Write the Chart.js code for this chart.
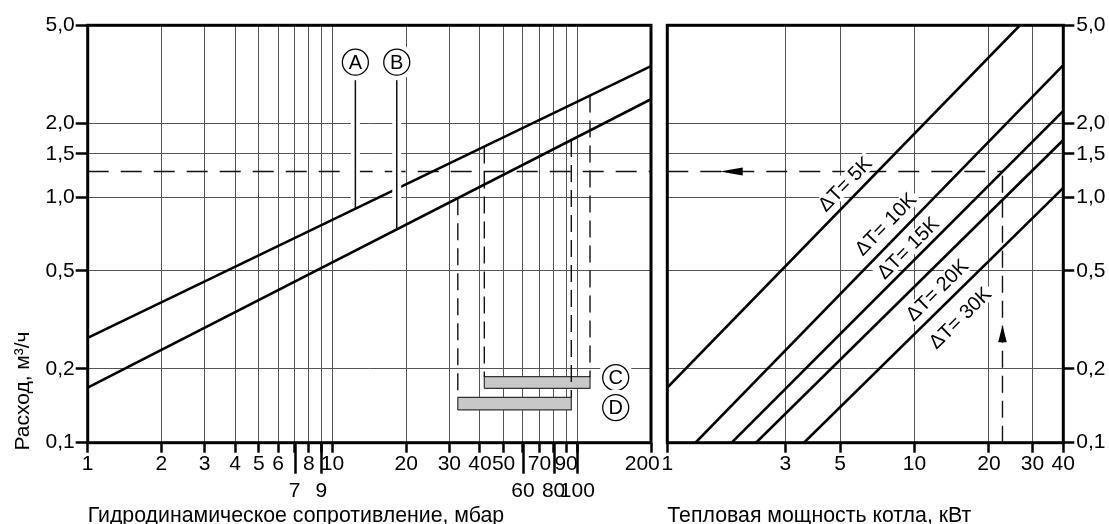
<!DOCTYPE html>
<html lang="ru">
<head>
<meta charset="utf-8">
<title>Расход</title>
<script src="https://cdn.jsdelivr.net/npm/chart.js@4.4.1/dist/chart.umd.min.js"></script>
<style>
html,body{margin:0;padding:0;background:#fff;overflow:hidden;}
#wrap{position:relative;width:1109px;height:524px;background:#fff;}
#wrap canvas{position:absolute;left:0;top:0;}
</style>
</head>
<body>
<div id="wrap">
<canvas id="leftChart" width="1109" height="524"></canvas>
<canvas id="rightChart" width="1109" height="524"></canvas>
</div>
<script>
// ---------------- data ----------------
const pressureTicks = [1,2,3,4,5,6,7,8,9,10,20,30,40,50,60,70,80,90,100,200];
const pressureLowerRowTicks = [7,9,60,80,100];
const flowTicks = [0.1,0.2,0.5,1.0,1.5,2.0,5.0];
const powerTicks = [1,3,5,10,20,30,40];

const curveA_pressure = [1,200];
const curveA_flow = [0.267,3.41];
const curveB_pressure = [1,200];
const curveB_flow = [0.1675,2.50];

const rangeC_pressure = [41.7,112.7];
const rangeC_flow = [0.1665,0.1856];
const rangeD_pressure = [32.5,94.5];
const rangeD_flow = [0.136,0.153];

const dT5K_power = [1,26.7];    const dT5K_flow = [0.1675,5.0];
const dT10K_power = [1.30,40];  const dT10K_flow = [0.1,3.44];
const dT15K_power = [1.82,40];  const dT15K_flow = [0.1,2.24];
const dT20K_power = [2.285,40]; const dT20K_flow = [0.1,1.706];
const dT30K_power = [3.57,40];  const dT30K_flow = [0.1,1.09];
const deltaTLabels = ['ΔT= 5K','ΔT= 10K','ΔT= 15K','ΔT= 20K','ΔT= 30K'];
const deltaTLabel_power = [5.23,7.63,9.41,12.33,15.28];
const deltaTLabel_flow = [1.13,0.776,0.62,0.418,0.322];

const exampleFlow = 1.27;
const examplePower = 22.7;
const arrowLeftTip_power = 1.63;
const arrowUpTip_flow = 0.301;

const markerAB_letters = ['A','B'];
const markerAB_pressure = [12.4,18.3];
const markerAB_flow = 3.54;
const markerCD_letters = ['C','D'];
const markerCD_pressure = 143.5;
const markerCD_flow = [0.184,0.139];

// ---------------- helpers ----------------
const FONT = '"Liberation Sans", Arial, Helvetica, sans-serif';
const GRID = '#555';
function logInterp(xs, ys, x){
  const t = (Math.log10(x)-Math.log10(xs[0]))/(Math.log10(xs[1])-Math.log10(xs[0]));
  return Math.pow(10, Math.log10(ys[0]) + t*(Math.log10(ys[1])-Math.log10(ys[0])));
}
const pts = (xs, ys) => xs.map((x,i)=>({x:x, y:ys[i]}));
const lineDs = (data, extra) => Object.assign({data:data, pointRadius:0, borderColor:'#000', borderWidth:2.6, fill:false, tension:0, order:0}, extra||{});
const dashV = () => ({borderWidth:1.4, borderDash:[17,8], order:1, borderColor:'#111'});
const dashH = () => ({borderWidth:1.4, borderDash:[21,12], order:1, borderColor:'#111'});
const boxDs = (xs, ys) => lineDs([{x:xs[0],y:ys[0]},{x:xs[1],y:ys[0]},{x:xs[1],y:ys[1]},{x:xs[0],y:ys[1]},{x:xs[0],y:ys[0]}],
  {fill:'shape', backgroundColor:'#c8c8c8', borderColor:'#333', borderWidth:1.2, order:2});
const flowLabel = v => v.toFixed(1).replace('.', ',');

function hideAxisPadding(s){ s.paddingLeft=0; s.paddingRight=0; s.paddingTop=0; s.paddingBottom=0; }

const LEFT = 87.7, RIGHT_L = 651, LEFT_R = 667.3, RIGHT_R = 1063.3, TOP = 25.3, BOTTOM = 442.7, W = 1109, H = 524;

// ---------------- left chart ----------------
const dropLines = [
  ...rangeC_pressure.map(p => lineDs([{x:p, y:logInterp(curveA_pressure, curveA_flow, p)}, {x:p, y:rangeC_flow[1]}], dashV())),
  ...rangeD_pressure.map(p => lineDs([{x:p, y:logInterp(curveB_pressure, curveB_flow, p)}, {x:p, y:rangeD_flow[1]}], dashV()))
];

const leftDecor = {
  id:'leftDecor',
  beforeDatasetsDraw(chart){
    const {ctx, chartArea, scales:{x}} = chart;
    ctx.save();
    ctx.strokeStyle = '#000'; ctx.lineWidth = 2.5;
    pressureLowerRowTicks.forEach(v => {
      const px = Math.round(x.getPixelForValue(v)) + 0.5;
      ctx.beginPath(); ctx.moveTo(px, chartArea.bottom); ctx.lineTo(px, chartArea.bottom + 31); ctx.stroke();
    });
    ctx.restore();
  },
  afterDatasetsDraw(chart){
    const {ctx, chartArea, scales:{x, y}} = chart;
    const R = 13;
    ctx.save();
    markerAB_pressure.forEach((p, i) => {
      const px = x.getPixelForValue(p);
      const cy = y.getPixelForValue(markerAB_flow);
      const f = i === 0 ? logInterp(curveA_pressure, curveA_flow, p) : logInterp(curveB_pressure, curveB_flow, p);
      const py = y.getPixelForValue(f);
      ctx.strokeStyle = '#fff'; ctx.lineWidth = 9;
      ctx.beginPath(); ctx.moveTo(px, cy); ctx.lineTo(px, py - 5); ctx.stroke();
      ctx.strokeStyle = '#111'; ctx.lineWidth = 1.5;
      ctx.beginPath(); ctx.moveTo(px, cy + R); ctx.lineTo(px, py); ctx.stroke();
    });
    const circ = (cx, cy, letter) => {
      ctx.fillStyle = '#fff';
      ctx.beginPath(); ctx.arc(cx, cy, R + 5, 0, Math.PI*2); ctx.fill();
      ctx.strokeStyle = '#000'; ctx.lineWidth = 1.3;
      ctx.beginPath(); ctx.arc(cx, cy, R, 0, Math.PI*2); ctx.stroke();
      ctx.fillStyle = '#000'; ctx.font = '20px ' + FONT; ctx.textAlign = 'center'; ctx.textBaseline = 'middle';
      ctx.fillText(letter, cx, cy + 1);
    };
    markerAB_pressure.forEach((p, i) => circ(x.getPixelForValue(p), y.getPixelForValue(markerAB_flow), markerAB_letters[i]));
    markerCD_flow.forEach((f, i) => circ(x.getPixelForValue(markerCD_pressure), y.getPixelForValue(f), markerCD_letters[i]));
    ctx.strokeStyle = '#000'; ctx.lineWidth = 3;
    ctx.strokeRect(chartArea.left, chartArea.top, chartArea.right - chartArea.left, chartArea.bottom - chartArea.top);
    ctx.restore();
  },
  afterDraw(chart){
    const {ctx} = chart;
    ctx.save();
    ctx.translate(23, 391); ctx.rotate(-Math.PI/2);
    ctx.fillStyle = '#000'; ctx.font = '21px ' + FONT; ctx.textAlign = 'center'; ctx.textBaseline = 'middle';
    ctx.fillText('Расход, м³/ч', 0, 0);
    ctx.restore();
  }
};

new Chart(document.getElementById('leftChart'), {
  type:'line',
  data:{datasets:[
    lineDs(pts(curveA_pressure, curveA_flow)),
    lineDs(pts(curveB_pressure, curveB_flow)),
    ...dropLines,
    lineDs([{x:pressureTicks[0], y:exampleFlow}, {x:pressureTicks[pressureTicks.length-1], y:exampleFlow}], dashH()),
    boxDs(rangeC_pressure, rangeC_flow),
    boxDs(rangeD_pressure, rangeD_flow)
  ]},
  options:{
    responsive:false, animation:false, devicePixelRatio:1, events:[],
    layout:{padding:{left:0, top:TOP, right:W - RIGHT_L, bottom:0}},
    plugins:{legend:{display:false}, tooltip:{enabled:false}},
    scales:{
      x:{
        type:'logarithmic', position:'bottom', min:1, max:200,
        afterBuildTicks: s => { s.ticks = pressureTicks.map(v => ({value:v})); },
        afterFit: s => { s.height = H - BOTTOM; hideAxisPadding(s); },
        ticks:{autoSkip:false, maxRotation:0, minRotation:0, padding:-2, color:'#000',
          font:{family:FONT, size:21, lineHeight:'27px'},
          callback: v => pressureLowerRowTicks.includes(v) ? ['', String(v)] : (v === 200 ? '200   ' : String(v))},
        grid:{color:GRID, lineWidth:1, tickLength:10, tickColor:'#000', tickWidth:2.5},
        border:{display:false},
        title:{display:true, text:'Гидродинамическое сопротивление, мбар', align:'start', color:'#000',
          font:{family:FONT, size:21.3, lineHeight:'16px'}, padding:{top:0, bottom:0}}
      },
      y:{
        type:'logarithmic', position:'left', min:0.1, max:5,
        afterBuildTicks: s => { s.ticks = flowTicks.map(v => ({value:v})); },
        afterFit: s => { s.width = LEFT; hideAxisPadding(s); },
        ticks:{autoSkip:false, padding:1, color:'#000', font:{family:FONT, size:21}, callback: v => flowLabel(v)},
        grid:{color:GRID, lineWidth:1, tickLength:12, tickColor:'#000', tickWidth:2.5},
        border:{display:false}
      }
    }
  },
  plugins:[leftDecor]
});

// ---------------- right chart ----------------
const dtSeries = [[dT5K_power,dT5K_flow],[dT10K_power,dT10K_flow],[dT15K_power,dT15K_flow],[dT20K_power,dT20K_flow],[dT30K_power,dT30K_flow]];

const rightDecor = {
  id:'rightDecor',
  afterDatasetsDraw(chart){
    const {ctx, chartArea, scales:{x, y}} = chart;
    ctx.save();
    ctx.fillStyle = '#000';
    let tx = x.getPixelForValue(arrowLeftTip_power), ty = y.getPixelForValue(exampleFlow);
    ctx.beginPath(); ctx.moveTo(tx, ty); ctx.lineTo(tx + 23, ty - 4); ctx.lineTo(tx + 23, ty + 4); ctx.closePath(); ctx.fill();
    tx = x.getPixelForValue(examplePower); ty = y.getPixelForValue(arrowUpTip_flow);
    ctx.beginPath(); ctx.moveTo(tx, ty); ctx.lineTo(tx - 4.3, ty + 17); ctx.lineTo(tx + 4.3, ty + 17); ctx.closePath(); ctx.fill();
    ctx.font = '20px ' + FONT; ctx.textAlign = 'center'; ctx.textBaseline = 'middle';
    deltaTLabels.forEach((t, i) => {
      const [ps, fs] = dtSeries[i];
      const x0 = x.getPixelForValue(ps[0]), y0 = y.getPixelForValue(fs[0]);
      const x1 = x.getPixelForValue(ps[1]), y1 = y.getPixelForValue(fs[1]);
      const ang = Math.atan2(y1 - y0, x1 - x0);
      const cx = x.getPixelForValue(deltaTLabel_power[i]), cy = y.getPixelForValue(deltaTLabel_flow[i]);
      ctx.save(); ctx.translate(cx, cy); ctx.rotate(ang);
      const w = ctx.measureText(t).width;
      ctx.fillStyle = '#fff'; ctx.fillRect(-w/2 - 3, -9, w + 6, 18);
      ctx.fillStyle = '#000'; ctx.fillText(t, 0, 1);
      ctx.restore();
    });
    ctx.strokeStyle = '#000'; ctx.lineWidth = 3;
    ctx.strokeRect(chartArea.left, chartArea.top, chartArea.right - chartArea.left, chartArea.bottom - chartArea.top);
    ctx.restore();
  }
};

new Chart(document.getElementById('rightChart'), {
  type:'line',
  data:{datasets:[
    ...dtSeries.map(s => lineDs(pts(s[0], s[1]))),
    lineDs([{x:powerTicks[0], y:exampleFlow}, {x:examplePower, y:exampleFlow}], dashH()),
    lineDs([{x:examplePower, y:flowTicks[0]}, {x:examplePower, y:exampleFlow}], dashV())
  ]},
  options:{
    responsive:false, animation:false, devicePixelRatio:1, events:[],
    layout:{padding:{left:LEFT_R, top:TOP, right:0, bottom:0}},
    plugins:{legend:{display:false}, tooltip:{enabled:false}},
    scales:{
      x:{
        type:'logarithmic', position:'bottom', min:1, max:40,
        afterBuildTicks: s => { s.ticks = powerTicks.map(v => ({value:v})); },
        afterFit: s => { s.height = H - BOTTOM; hideAxisPadding(s); },
        ticks:{autoSkip:false, maxRotation:0, minRotation:0, padding:-2, color:'#000',
          font:{family:FONT, size:21, lineHeight:'27px'}, callback: v => String(v)},
        grid:{color:GRID, lineWidth:1, tickLength:10, tickColor:'#000', tickWidth:2.5},
        border:{display:false},
        title:{display:true, text:'Тепловая мощность котла, кВт', align:'start', color:'#000',
          font:{family:FONT, size:21.3, lineHeight:'16px'}, padding:{top:0, bottom:0}}
      },
      y:{
        type:'logarithmic', position:'right', min:0.1, max:5,
        afterBuildTicks: s => { s.ticks = flowTicks.map(v => ({value:v})); },
        afterFit: s => { s.width = W - RIGHT_R; hideAxisPadding(s); },
        ticks:{autoSkip:false, padding:2, color:'#000', font:{family:FONT, size:21}, callback: v => flowLabel(v)},
        grid:{color:GRID, lineWidth:1, tickLength:11, tickColor:'#000', tickWidth:2.5},
        border:{display:false}
      }
    }
  },
  plugins:[rightDecor]
});
</script>
</body>
</html>
